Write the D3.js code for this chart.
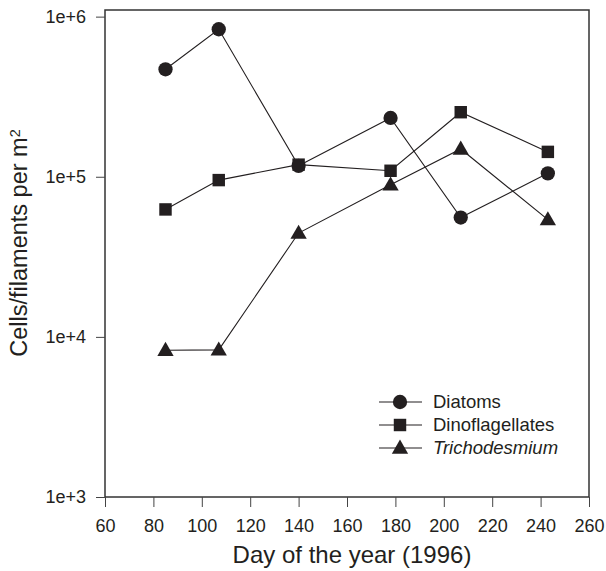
<!DOCTYPE html>
<html>
<head>
<meta charset="utf-8">
<script src="https://cdn.jsdelivr.net/npm/d3@7"></script>
<style>
  html, body { margin: 0; padding: 0; background: #fff; }
  svg { display: block; font-family: "Liberation Sans", Arial, Helvetica, sans-serif; }
</style>
</head>
<body>
<svg id="chart" width="606" height="571"></svg>
<script>
// ---- data ----
const days = [85, 107, 140, 178, 207, 243];
const diatoms = [469000, 834000, 117000, 233000, 55600, 105000];
const dinoflagellates = [62500, 95300, 119000, 109000, 253000, 143000];
const trichodesmium = [8250, 8300, 44500, 89000, 149000, 54000];
const seriesNames = ["Diatoms", "Dinoflagellates", "Trichodesmium"];
const seriesSymbols = ["circle", "square", "triangle"];
const xTicks = [60, 80, 100, 120, 140, 160, 180, 200, 220, 240, 260];
const yTicks = [1e3, 1e4, 1e5, 1e6];
const yTickLabels = ["1e+3", "1e+4", "1e+5", "1e+6"];
const xTitle = "Day of the year (1996)";

// ---- layout ----
const svg = d3.select("#chart");
const m = { left: 105, top: 10, right: 17, bottom: 74 };
const W = 606 - m.left - m.right, H = 571 - m.top - m.bottom;
const ink = "#231f20";

const x = d3.scaleLinear().domain([60, 260]).range([0, W]);
const y = d3.scaleLog().domain([1000, 1.1e6]).range([H, 0]);

const g = svg.append("g").attr("transform", `translate(${m.left},${m.top})`);

// frame
g.append("rect").attr("x", 0).attr("y", 0).attr("width", W).attr("height", H)
  .attr("fill", "none").attr("stroke", "#333").attr("stroke-width", 1.5);

// axes
const xAxis = g.append("g").attr("transform", `translate(0,${H})`)
  .call(d3.axisBottom(x).tickValues(xTicks).tickFormat(d3.format("d")).tickSize(10).tickPadding(12));
const yAxis = g.append("g")
  .call(d3.axisLeft(y).tickValues(yTicks).tickFormat((d, i) => yTickLabels[i]).tickSize(9).tickPadding(10));
[xAxis, yAxis].forEach(a => {
  a.select(".domain").remove();
  a.selectAll(".tick line").attr("stroke", "#444").attr("stroke-width", 1);
  a.selectAll(".tick text").attr("fill", ink).style("font-size", "18px")
    .style("font-family", "'Liberation Sans', Arial, sans-serif");
});

// titles
svg.append("text").attr("x", m.left + W / 2 + 5).attr("y", 563)
  .attr("text-anchor", "middle").attr("fill", ink).style("font-size", "24px").text(xTitle);

const yt = svg.append("text").attr("transform", `translate(27,${m.top + 233}) rotate(-90)`)
  .attr("text-anchor", "middle").attr("fill", ink).style("font-size", "23.5px");
yt.append("tspan").text("Cells/filaments per m");
yt.append("tspan").attr("dy", "-0.45em").style("font-size", "14.5px").text("2");

// series
const allSeries = [diatoms, dinoflagellates, trichodesmium];
const symType = { circle: d3.symbolCircle, square: d3.symbolSquare, triangle: d3.symbolTriangle };
const symSize = { circle: 160, square: 155, triangle: 115 };
const line = d3.line().x(d => x(d[0])).y(d => y(d[1]));

allSeries.forEach((vals, si) => {
  const pts = days.map((d, i) => [d, vals[i]]);
  g.append("path").datum(pts).attr("d", line).attr("fill", "none")
    .attr("stroke", ink).attr("stroke-width", 1.1);
});
allSeries.forEach((vals, si) => {
  const s = seriesSymbols[si];
  const sym = d3.symbol().type(symType[s]).size(symSize[s]);
  g.selectAll(null).data(days.map((d, i) => [d, vals[i]])).enter().append("path")
    .attr("d", sym)
    .attr("transform", d => `translate(${x(d[0])},${y(d[1]) + (s === "triangle" ? 1 : 0)})`)
    .attr("fill", ink);
});

// legend
const lg = svg.append("g").attr("transform", "translate(379,402)");
seriesNames.forEach((name, i) => {
  const row = lg.append("g").attr("transform", `translate(0,${i * 23})`);
  row.append("line").attr("x1", 0).attr("x2", 43).attr("y1", 0).attr("y2", 0)
    .attr("stroke", ink).attr("stroke-width", 1.1);
  const s = seriesSymbols[i];
  row.append("path").attr("d", d3.symbol().type(symType[s]).size(symSize[s]))
    .attr("transform", `translate(21,${s === "triangle" ? 1 : 0})`).attr("fill", ink);
  row.append("text").attr("x", 54).attr("y", 0).attr("dy", "0.35em")
    .attr("fill", ink).style("font-size", "18.5px")
    .style("font-style", i === 2 ? "italic" : "normal").text(name);
});
</script>
</body>
</html>
